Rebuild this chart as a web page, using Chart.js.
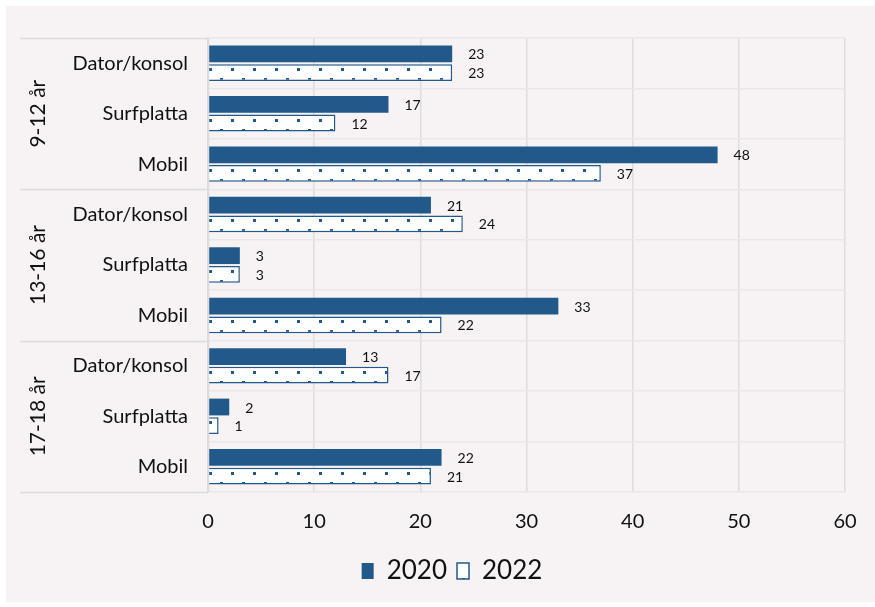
<!DOCTYPE html>
<html>
<head>
<meta charset="utf-8">
<script src="https://cdn.jsdelivr.net/npm/chart.js@4.4.1/dist/chart.umd.min.js"></script>
<style>
  html, body { margin: 0; padding: 0; background: #ffffff; }
  #wrap { position: absolute; left: 6px; top: 6px; width: 869px; height: 596px; background: #f7f2f4; }
  canvas { display: block; }
</style>
</head>
<body>
<div id="wrap"><canvas id="c" width="869" height="596"></canvas></div>
<script>
// Age groups and devices (two-level category axis)
const ageGroups = ['9-12 år', '13-16 år', '17-18 år'];
const devices = ['Dator/konsol', 'Surfplatta', 'Mobil'];
// Share per device, in the order group x device
const values2020 = [23, 17, 48, 21, 3, 33, 13, 2, 22];
const values2022 = [23, 12, 37, 24, 3, 22, 17, 1, 21];
const seriesNames = ['2020', '2022'];
const xTickValues = [0, 10, 20, 30, 40, 50, 60];

const BLUE = '#215a8a';
const FONT = 'Lato, "Open Sans", sans-serif';
const CAT_PCT = 0.74;
const BAR_PCT = 0.9;

const categories = [];
ageGroups.forEach(() => devices.forEach(d => categories.push(d)));

// Dotted tile for the 2022 bars
const tile = document.createElement('canvas');
tile.width = 22; tile.height = 20;
(function () {
  const g = tile.getContext('2d');
  g.fillStyle = '#ffffff';
  g.fillRect(0, 0, 22, 20);
  g.fillStyle = BLUE;
  g.fillRect(1, 4, 3, 3);
  g.fillRect(12, 14, 3, 3);
})();
const ctx2d = document.getElementById('c').getContext('2d');

// Pattern anchored at each bar's top-left corner
function dottedFill(context) {
  const pat = ctx2d.createPattern(tile, 'repeat');
  const chart = context.chart;
  const y = chart.scales && chart.scales.y;
  if (!y || context.dataIndex === undefined || !chart.chartArea) return pat;
  const band = y.getPixelForValue(1) - y.getPixelForValue(0);
  const slot = band * CAT_PCT / 2;
  const top = y.getPixelForValue(context.dataIndex) + slot / 2 - slot * BAR_PCT / 2;
  pat.setTransform(new DOMMatrix().translate(chart.chartArea.left, Math.round(top)));
  return pat;
}

// Group labels and group separators on the left side
const groupAxis = {
  id: 'groupAxis',
  afterDraw(chart) {
    const { ctx, chartArea } = chart;
    const y = chart.scales.y;
    const band = y.getPixelForValue(1) - y.getPixelForValue(0);
    ctx.save();
    ctx.strokeStyle = '#dcdcdc';
    ctx.lineWidth = 1.5;
    for (let g = 0; g <= ageGroups.length; g++) {
      const py = Math.round(y.getPixelForValue(g * devices.length) - band / 2) + 0.5;
      ctx.beginPath();
      ctx.moveTo(14, py);
      ctx.lineTo(chartArea.left, py);
      ctx.stroke();
    }
    ctx.beginPath();
    ctx.moveTo(chartArea.left + 0.5, chartArea.top);
    ctx.lineTo(chartArea.left + 0.5, chartArea.bottom);
    ctx.stroke();
    ctx.fillStyle = '#111111';
    ctx.font = '21px ' + FONT;
    ctx.textAlign = 'center';
    ctx.textBaseline = 'middle';
    ageGroups.forEach((name, g) => {
      const top = y.getPixelForValue(g * devices.length) - band / 2;
      const bottom = y.getPixelForValue(g * devices.length + devices.length - 1) + band / 2;
      ctx.save();
      ctx.translate(32, (top + bottom) / 2);
      ctx.rotate(-Math.PI / 2);
      ctx.fillText(name, 0, 0);
      ctx.restore();
    });
    ctx.restore();
  }
};

// Value labels to the right of each bar
const valueLabels = {
  id: 'valueLabels',
  afterDatasetsDraw(chart) {
    const { ctx } = chart;
    ctx.save();
    ctx.fillStyle = '#111111';
    ctx.font = '14px ' + FONT;
    ctx.textAlign = 'left';
    ctx.textBaseline = 'middle';
    chart.data.datasets.forEach((ds, i) => {
      chart.getDatasetMeta(i).data.forEach((el, j) => {
        ctx.fillText(String(ds.data[j]), el.x + 16, el.y + 1);
      });
    });
    ctx.restore();
  }
};

new Chart(document.getElementById('c'), {
  type: 'bar',
  data: {
    labels: categories,
    datasets: [
      { label: seriesNames[0], data: values2020, backgroundColor: BLUE, borderColor: BLUE, borderWidth: 0 },
      { label: seriesNames[1], data: values2022, backgroundColor: dottedFill, borderColor: BLUE, borderWidth: 1.5 }
    ]
  },
  options: {
    indexAxis: 'y',
    responsive: false,
    animation: false,
    layout: { padding: { top: 29, right: 30, left: 53, bottom: 8 } },
    datasets: { bar: { categoryPercentage: CAT_PCT, barPercentage: BAR_PCT } },
    scales: {
      x: {
        min: 0, max: 60,
        afterBuildTicks(s) { s.ticks = xTickValues.map(v => ({ value: v })); },
        grid: { color: '#dedcdd', lineWidth: 1.5, drawTicks: false },
        border: { display: false },
        ticks: { color: '#111111', font: { family: FONT, size: 20 }, padding: 18 },
        afterFit(s) { s.height = 56; }
      },
      y: {
        grid: { color: '#ebe6e8', lineWidth: 1.5, drawTicks: false, offset: true },
        border: { display: false },
        ticks: { color: '#111111', font: { family: FONT, size: 20 }, padding: 20, autoSkip: false },
        afterFit(s) { s.width = 149; }
      }
    },
    plugins: {
      tooltip: { enabled: false },
      legend: {
        position: 'bottom',
        labels: {
          color: '#111111',
          font: { family: FONT, size: 26 },
          boxWidth: 12, boxHeight: 16,
          padding: 10
        }
      }
    }
  },
  plugins: [groupAxis, valueLabels]
});
</script>
</body>
</html>
